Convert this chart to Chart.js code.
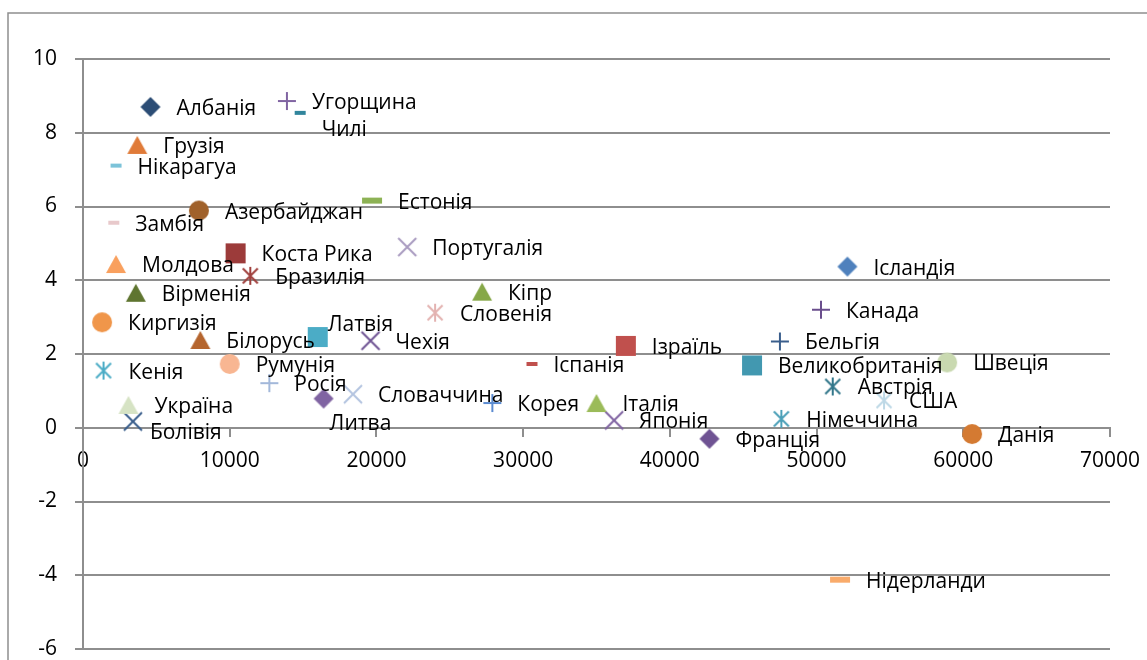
<!DOCTYPE html>
<html>
<head>
<meta charset="utf-8">
<script src="https://cdn.jsdelivr.net/npm/chart.js@4/dist/chart.umd.min.js"></script>
<style>
  html, body { margin: 0; padding: 0; background: #fff; overflow: hidden; }
  #wrap { width: 1147px; height: 660px; position: relative; }
</style>
</head>
<body>
<div id="wrap"><canvas id="chart" width="1147" height="660"></canvas></div>
<script>
// Countries, one scatter series each
const countries = [
  'Албанія', 'Угорщина', 'Чилі', 'Грузія', 'Нікарагуа', 'Азербайджан', 'Естонія',
  'Замбія', 'Коста Рика', 'Молдова', 'Бразилія', 'Португалія', 'Вірменія', 'Кіпр',
  'Словенія', 'Ісландія', 'Канада', 'Бельгія', 'Киргизія', 'Латвія', 'Білорусь',
  'Чехія', 'Ізраїль', 'Великобританія', 'Швеція', 'Кенія', 'Румунія', 'Іспанія',
  'Росія', 'Словаччина', 'Литва', 'Україна', 'Болівія', 'Корея', 'Італія',
  'Японія', 'Франція', 'Австрія', 'США', 'Німеччина', 'Данія', 'Нідерланди'
];

// Horizontal values
const xValues = [
  4600, 13900, 14800, 3700, 2250, 7900, 19700,
  2100, 10400, 2250, 11400, 22100, 3600, 27200,
  24000, 52100, 50300, 47500, 1300, 16000, 8000,
  19600, 37000, 45600, 58900, 1400, 10000, 30600,
  12700, 18400, 16400, 3100, 3400, 27900, 35000,
  36200, 42700, 51100, 54600, 47600, 60600, 51600
];

// Vertical values
const yValues = [
  8.70, 8.86, 8.54, 7.67, 7.11, 5.89, 6.16,
  5.56, 4.73, 4.44, 4.12, 4.90, 3.66, 3.69,
  3.12, 4.37, 3.20, 2.34, 2.86, 2.46, 2.38,
  2.36, 2.22, 1.69, 1.77, 1.55, 1.73, 1.73,
  1.21, 0.91, 0.79, 0.62, 0.17, 0.67, 0.67,
  0.20, -0.30, 1.12, 0.74, 0.24, -0.17, -4.12
];

// Axis tick labels
const xTickLabels = ['0', '10000', '20000', '30000', '40000', '50000', '60000', '70000'];
const yTickLabels = ['-6', '-4', '-2', '0', '2', '4', '6', '8', '10'];

// Marker shape and colour for each series
const markerShapes = [
  'diamond', 'plus', 'dash', 'triangle', 'dash', 'circle', 'dashL',
  'dash', 'square', 'triangle', 'star', 'x', 'triangle', 'triangle',
  'star', 'diamond', 'plus', 'plus', 'circle', 'square', 'triangle',
  'x', 'square', 'square', 'circle', 'star', 'circle', 'dash',
  'plus', 'x', 'diamond', 'triangle', 'x', 'plus', 'triangle',
  'x', 'diamond', 'star', 'star', 'star', 'circle', 'dashL'
];
const markerColors = [
  '#2C4D75', '#8064A2', '#31859C', '#E07B39', '#7CC3D9', '#A0612A', '#8DB255',
  '#E8C9CB', '#9C3B3A', '#F9A05E', '#A0403D', '#A99BC0', '#5F7530', '#86A848',
  '#E3B2B0', '#4F81BD', '#6A4E8D', '#3A5E8C', '#F0964A', '#4BACC6', '#B5652E',
  '#6F5393', '#C0504D', '#4298B0', '#C9D9B0', '#4BACC6', '#F8B692', '#C0504D',
  '#A3B8DA', '#B4C4E0', '#8064A2', '#D6E3C4', '#3A5E8C', '#5B8BD0', '#9BBB59',
  '#8064A2', '#6F5393', '#31768A', '#BDD8E6', '#4BA0B8', '#D47A32', '#F9AB6B'
];

// Labels that sit away from the default right-hand position
const labelNudge = {
  'Чилі': [0, 15],
  'Латвія': [-16, -14],
  'Литва': [-20, 23],
  'Болівія': [-8, 10]
};

const FONT = '"Open Sans", "Noto Sans", sans-serif';
const FONT_SIZE = 21;
const AXIS_GRAY = '#8e8e8e';

function makeMarker(shape, color) {
  const dims = {
    diamond: [20, 20], square: [20, 20], triangle: [20, 18], circle: [20, 20],
    plus: [18, 18], x: [18, 18], star: [18, 18], dash: [11, 4], dashL: [20, 6]
  };
  const [w, h] = dims[shape];
  const c = document.createElement('canvas');
  c.width = w + 4;
  c.height = h + 4;
  const g = c.getContext('2d');
  const cx = c.width / 2, cy = c.height / 2;
  g.fillStyle = color;
  g.strokeStyle = color;
  g.lineWidth = 2;
  g.beginPath();
  switch (shape) {
    case 'diamond':
      g.moveTo(cx, cy - h / 2); g.lineTo(cx + w / 2, cy);
      g.lineTo(cx, cy + h / 2); g.lineTo(cx - w / 2, cy);
      g.closePath(); g.fill();
      break;
    case 'square':
      g.fillRect(cx - w / 2, cy - h / 2, w, h);
      break;
    case 'triangle':
      g.moveTo(cx, cy - h / 2); g.lineTo(cx + w / 2, cy + h / 2);
      g.lineTo(cx - w / 2, cy + h / 2); g.closePath(); g.fill();
      break;
    case 'circle':
      g.arc(cx, cy, w / 2, 0, Math.PI * 2); g.fill();
      break;
    case 'plus':
      g.moveTo(cx - w / 2, cy); g.lineTo(cx + w / 2, cy);
      g.moveTo(cx, cy - h / 2); g.lineTo(cx, cy + h / 2); g.stroke();
      break;
    case 'x':
      g.moveTo(cx - w / 2, cy - h / 2); g.lineTo(cx + w / 2, cy + h / 2);
      g.moveTo(cx + w / 2, cy - h / 2); g.lineTo(cx - w / 2, cy + h / 2); g.stroke();
      break;
    case 'star':
      g.moveTo(cx - w / 2.4, cy - h / 2.4); g.lineTo(cx + w / 2.4, cy + h / 2.4);
      g.moveTo(cx + w / 2.4, cy - h / 2.4); g.lineTo(cx - w / 2.4, cy + h / 2.4);
      g.moveTo(cx, cy - h / 2); g.lineTo(cx, cy + h / 2); g.stroke();
      break;
    case 'dash':
    case 'dashL':
      g.fillRect(cx - w / 2, cy - h / 2, w, h);
      break;
  }
  return c;
}

// Point labels to the right of each marker
const pointLabels = {
  id: 'pointLabels',
  afterDatasetsDraw(chart) {
    const ctx = chart.ctx;
    ctx.save();
    ctx.font = FONT_SIZE + 'px ' + FONT;
    ctx.fillStyle = '#000';
    ctx.textBaseline = 'middle';
    ctx.textAlign = 'left';
    chart.data.datasets.forEach((ds, i) => {
      const p = chart.getDatasetMeta(i).data[0];
      const half = ds.pointStyle.width / 2 - 2;
      const nudge = labelNudge[ds.label] || [0, 0];
      ctx.fillText(ds.label, p.x + half + 16 + nudge[0], p.y + 2 + nudge[1]);
    });
    ctx.restore();
  }
};

// Outer frame of the chart
const outerFrame = {
  id: 'outerFrame',
  beforeDraw(chart) {
    const ctx = chart.ctx;
    ctx.save();
    ctx.fillStyle = '#fff';
    ctx.fillRect(0, 0, chart.width, chart.height);
    ctx.strokeStyle = AXIS_GRAY;
    ctx.lineWidth = 1.5;
    ctx.strokeRect(8, 13, 3000, 3000);
    ctx.restore();
  }
};

function draw() {
  const datasets = countries.map((name, i) => ({
    label: name,
    data: [{ x: xValues[i], y: yValues[i] }],
    pointStyle: makeMarker(markerShapes[i], markerColors[i]),
    pointRadius: 10,
    showLine: false
  }));

  const tickFont = { family: FONT, size: FONT_SIZE };

  new Chart(document.getElementById('chart'), {
    type: 'scatter',
    data: { datasets },
    options: {
      responsive: false,
      devicePixelRatio: 1,
      animation: false,
      events: [],
      layout: { padding: { left: 0, right: 37, top: 59, bottom: 11 } },
      plugins: { legend: { display: false }, tooltip: { enabled: false } },
      scales: {
        x: {
          type: 'linear',
          position: { y: 0 },
          min: 0,
          max: 70000,
          afterBuildTicks(scale) {
            scale.ticks = xTickLabels.map(t => ({ value: Number(t) }));
          },
          ticks: {
            color: '#000',
            font: tickFont,
            padding: 13,
            maxRotation: 0,
            autoSkip: false,
            callback: (v, idx) => xTickLabels[idx]
          },
          grid: { drawOnChartArea: false, drawTicks: true, tickLength: 8, color: AXIS_GRAY, lineWidth: 2 },
          border: { display: true, color: AXIS_GRAY, width: 2 },
          afterFit(scale) { scale.paddingLeft = 0; scale.paddingRight = 0; }
        },
        y: {
          type: 'linear',
          position: 'left',
          min: -6,
          max: 10,
          afterBuildTicks(scale) {
            scale.ticks = yTickLabels.map(t => ({ value: Number(t) }));
          },
          ticks: {
            color: '#000',
            font: tickFont,
            padding: 18,
            autoSkip: false,
            callback: (v, idx) => yTickLabels[idx]
          },
          grid: { drawTicks: true, tickLength: 8, color: AXIS_GRAY, lineWidth: 2 },
          border: { display: true, color: AXIS_GRAY, width: 2 },
          afterFit(scale) { scale.width = 83; scale.paddingTop = 0; scale.paddingBottom = 0; }
        }
      }
    },
    plugins: [outerFrame, pointLabels]
  });
}

if (document.fonts && document.fonts.load) {
  document.fonts.load(FONT_SIZE + 'px "Open Sans"').then(draw, draw);
} else {
  draw();
}
</script>
</body>
</html>
